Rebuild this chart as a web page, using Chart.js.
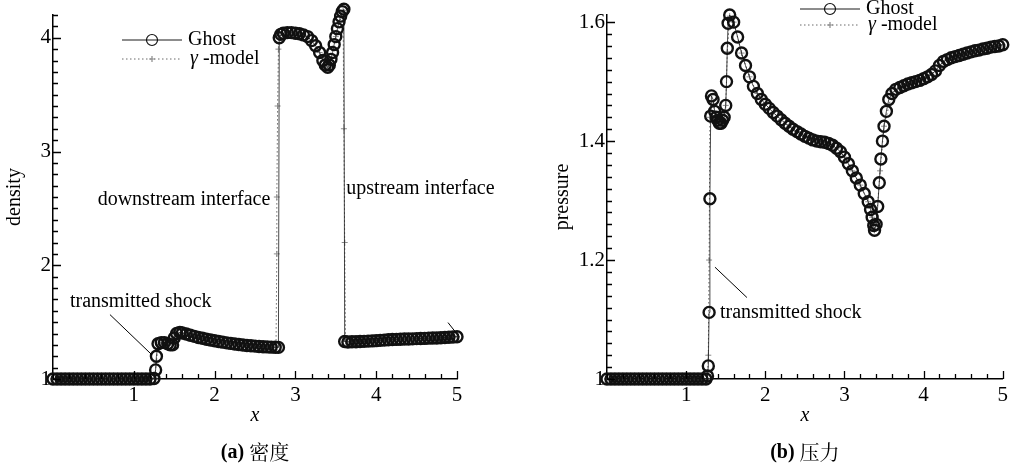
<!DOCTYPE html>
<html>
<head>
<meta charset="utf-8">
<script src="https://cdn.jsdelivr.net/npm/chart.js@4.4.1/dist/chart.umd.min.js"></script>
<style>
  body { margin: 0; background: #fff; }
  #wrap { position: relative; width: 1012px; height: 468px; }
  canvas { position: absolute; top: 0; }
  #c1 { left: 0; }
  #c2 { left: 506px; }
</style>
</head>
<body>
<div id="wrap">
  <canvas id="c1" width="506" height="468"></canvas>
  <canvas id="c2" width="506" height="468"></canvas>
</div>
<script>
// ---- data: [x, value] ----
const ghostDensity = [
  [0,1],[0.05,1],[0.1,1],[0.15,1],[0.2,1],[0.25,1],[0.3,1],[0.35,1],[0.4,1],[0.45,1],
  [0.5,1],[0.55,1],[0.6,1],[0.65,1],[0.7,1],[0.75,1],[0.8,1],[0.85,1],[0.9,1],[0.95,1],
  [1,1],[1.05,1],[1.1,1],[1.15,1],[1.2,1],[1.25,1.005],
  [1.27,1.08],[1.28,1.2],[1.3,1.31],[1.34,1.32],[1.38,1.32],[1.42,1.31],[1.45,1.3],[1.48,1.3],
  [1.5,1.36],[1.53,1.4],[1.57,1.41],[1.6,1.405],[1.65,1.395],[1.7,1.385],[1.75,1.375],
  [1.8,1.365],[1.85,1.358],[1.9,1.35],[1.95,1.343],[2,1.336],[2.05,1.33],[2.1,1.324],
  [2.15,1.318],[2.2,1.313],[2.25,1.308],[2.3,1.303],[2.35,1.299],[2.4,1.295],[2.45,1.292],
  [2.5,1.289],[2.55,1.286],[2.6,1.284],[2.65,1.282],[2.7,1.28],[2.75,1.279],[2.79,1.278],
  [2.8,4.0],[2.82,4.03],[2.85,4.04],[2.9,4.045],[2.95,4.045],[3,4.04],[3.05,4.035],[3.1,4.025],
  [3.15,4.01],[3.2,3.975],[3.25,3.93],[3.3,3.87],[3.34,3.8],[3.37,3.76],[3.4,3.74],[3.42,3.76],
  [3.44,3.81],[3.46,3.87],[3.48,3.94],[3.5,4.01],[3.52,4.08],[3.54,4.14],[3.56,4.19],[3.58,4.23],
  [3.6,4.25],
  [3.61,1.33],[3.65,1.325],[3.7,1.327],[3.75,1.328],[3.8,1.33],[3.85,1.331],[3.9,1.333],
  [3.95,1.335],[4,1.337],[4.05,1.34],[4.1,1.342],[4.15,1.345],[4.2,1.347],[4.25,1.348],
  [4.3,1.35],[4.35,1.351],[4.4,1.352],[4.45,1.353],[4.5,1.355],[4.55,1.356],[4.6,1.357],
  [4.65,1.359],[4.7,1.36],[4.75,1.361],[4.8,1.363],[4.85,1.365],[4.9,1.367],[4.95,1.369],[5,1.372]
];

const gammaDensity = [
  [0,1],[0.1,1],[0.2,1],[0.3,1],[0.4,1],[0.5,1],[0.6,1],[0.7,1],[0.8,1],[0.9,1],[1,1],
  [1.1,1],[1.2,1],[1.26,1.01],[1.28,1.15],[1.3,1.3],[1.4,1.32],[1.5,1.37],[1.6,1.405],
  [1.7,1.385],[1.8,1.365],[1.9,1.35],[2,1.336],[2.1,1.324],[2.2,1.313],[2.3,1.303],
  [2.4,1.295],[2.5,1.289],[2.6,1.284],[2.7,1.28],[2.76,1.28],[2.77,2.1],[2.77,2.6],
  [2.78,3.4],[2.79,3.9],[2.8,4.02],[2.9,4.045],[3,4.04],[3.1,4.025],[3.2,3.975],[3.3,3.87],
  [3.4,3.74],[3.5,4.01],[3.59,4.24],[3.6,3.2],[3.61,2.2],[3.62,1.33],[3.7,1.327],[3.8,1.33],
  [3.9,1.333],[4,1.337],[4.1,1.342],[4.2,1.347],[4.3,1.35],[4.4,1.352],[4.5,1.355],
  [4.6,1.357],[4.7,1.36],[4.8,1.363],[4.9,1.367],[5,1.372]
];

const ghostPressure = [
  [0,1],[0.05,1],[0.1,1],[0.15,1],[0.2,1],[0.25,1],[0.3,1],[0.35,1],[0.4,1],[0.45,1],
  [0.5,1],[0.55,1],[0.6,1],[0.65,1],[0.7,1],[0.75,1],[0.8,1],[0.85,1],[0.9,1],[0.95,1],
  [1,1],[1.05,1],[1.1,1],[1.15,1],[1.2,1],[1.25,1],
  [1.27,1.005],[1.28,1.022],[1.29,1.112],[1.3,1.303],[1.31,1.442],[1.32,1.476],[1.34,1.47],
  [1.36,1.45],[1.38,1.44],[1.4,1.435],[1.42,1.43],[1.44,1.43],[1.46,1.435],[1.48,1.44],
  [1.5,1.46],[1.51,1.5],[1.52,1.556],[1.53,1.598],[1.55,1.612],[1.6,1.6],[1.65,1.575],
  [1.7,1.548],[1.75,1.527],[1.8,1.508],[1.85,1.492],[1.9,1.48],[1.95,1.47],[2,1.462],
  [2.05,1.455],[2.1,1.448],[2.15,1.442],[2.2,1.436],[2.25,1.43],[2.3,1.425],[2.35,1.42],
  [2.4,1.416],[2.45,1.412],[2.5,1.408],[2.55,1.405],[2.6,1.402],[2.65,1.4],[2.7,1.399],
  [2.75,1.398],[2.8,1.396],[2.85,1.393],[2.9,1.388],[2.95,1.382],[3,1.373],[3.05,1.362],
  [3.1,1.35],[3.15,1.338],[3.2,1.326],[3.25,1.312],[3.3,1.298],[3.33,1.285],[3.35,1.272],
  [3.37,1.258],[3.38,1.25],[3.4,1.26],[3.42,1.29],[3.44,1.33],[3.46,1.37],[3.48,1.4],
  [3.5,1.425],[3.53,1.45],[3.56,1.47],[3.6,1.48],[3.65,1.487],[3.7,1.49],[3.75,1.493],
  [3.8,1.496],[3.85,1.498],[3.9,1.5],[3.95,1.502],[4,1.505],[4.05,1.508],[4.1,1.512],
  [4.15,1.518],[4.2,1.527],[4.25,1.534],[4.3,1.537],[4.35,1.54],[4.4,1.542],[4.45,1.544],
  [4.5,1.546],[4.55,1.548],[4.6,1.55],[4.65,1.552],[4.7,1.553],[4.75,1.555],[4.8,1.556],
  [4.85,1.558],[4.9,1.559],[4.95,1.56],[5,1.562]
];

const gammaPressure = [
  [0,1],[0.1,1],[0.2,1],[0.3,1],[0.4,1],[0.5,1],[0.6,1],[0.7,1],[0.8,1],[0.9,1],[1,1],
  [1.1,1],[1.2,1],[1.27,1],[1.28,1.04],[1.29,1.2],[1.3,1.44],[1.35,1.46],[1.4,1.435],
  [1.45,1.43],[1.5,1.46],[1.52,1.55],[1.55,1.61],[1.6,1.6],[1.7,1.548],[1.8,1.508],
  [1.9,1.48],[2,1.462],[2.1,1.448],[2.2,1.436],[2.3,1.425],[2.4,1.416],[2.5,1.408],
  [2.6,1.402],[2.7,1.399],[2.8,1.396],[2.9,1.388],[3,1.373],[3.1,1.35],[3.2,1.326],
  [3.3,1.298],[3.35,1.272],[3.38,1.25],[3.4,1.26],[3.45,1.35],[3.5,1.425],[3.6,1.48],
  [3.7,1.49],[3.8,1.496],[3.9,1.5],[4,1.505],[4.1,1.512],[4.2,1.527],[4.3,1.537],
  [4.4,1.542],[4.5,1.546],[4.6,1.55],[4.7,1.553],[4.8,1.556],[4.9,1.559],[5,1.562]
];

const xTicks = [1, 2, 3, 4, 5];
const densityTicks = [1, 2, 3, 4];
const pressureTicks = [1, 1.2, 1.4, 1.6];

const SERIF = "'Liberation Serif', 'Times New Roman', serif";
const CJK = "'Noto Serif CJK SC', 'Noto Sans CJK SC', sans-serif";
Chart.defaults.font.family = SERIF;
Chart.defaults.color = '#000';

function toPoints(arr) {
  return arr.map(p => ({ x: p[0], y: p[1] }));
}

// axes ticks drawn inward, labels, legend and notes
const panelDecor = {
  id: 'panelDecor',
  afterDraw(chart, args, o) {
    const ctx = chart.ctx;
    const xs = chart.scales.x, ys = chart.scales.y;
    const area = chart.chartArea;
    ctx.save();

    // inward tick marks
    ctx.strokeStyle = '#000';
    ctx.lineWidth = 1.3;
    ctx.beginPath();
    for (let i = 0; i * o.xStep <= 5 + 1e-9; i++) {
      const v = i * o.xStep;
      const px = Math.round(xs.getPixelForValue(v)) + 0.5;
      const len = xTicks.some(t => Math.abs(t - v) < 1e-6) ? 8 : 5;
      ctx.moveTo(px, area.bottom);
      ctx.lineTo(px, area.bottom - len);
    }
    for (let i = 0; ys.min + i * o.yStep <= ys.max + 1e-9; i++) {
      const v = ys.min + i * o.yStep;
      const py = Math.round(ys.getPixelForValue(v)) + 0.5;
      const len = o.yMajor.some(t => Math.abs(t - v) < 1e-6) ? 8 : 5;
      ctx.moveTo(area.left, py);
      ctx.lineTo(area.left + len, py);
    }
    ctx.stroke();

    // axis titles
    const cx = (area.left + area.right) / 2;
    ctx.fillStyle = '#000';
    ctx.textAlign = 'center';
    ctx.textBaseline = 'middle';
    ctx.font = 'italic 20px ' + SERIF;
    ctx.fillText('x', cx, 416);
    ctx.save();
    ctx.translate(o.yTitleX, 197);
    ctx.rotate(-Math.PI / 2);
    ctx.font = '20px ' + SERIF;
    ctx.fillText(o.yTitle, 0, 0);
    ctx.restore();

    // caption "(a) 密度"
    ctx.font = 'bold 20px ' + SERIF;
    const w1 = ctx.measureText(o.capTag + ' ').width;
    ctx.font = '20px ' + CJK;
    const w2 = ctx.measureText(o.capText).width;
    const start = cx - (w1 + w2) / 2;
    ctx.textAlign = 'left';
    ctx.font = 'bold 20px ' + SERIF;
    ctx.fillText(o.capTag + ' ', start, 453);
    ctx.font = '20px ' + CJK;
    ctx.fillText(o.capText, start + w1, 452);

    // notes and leader lines (data coordinates)
    ctx.font = '20px ' + SERIF;
    o.notes.forEach(n => {
      ctx.textAlign = n.align;
      ctx.fillText(n.text, xs.getPixelForValue(n.x), ys.getPixelForValue(n.y));
    });
    ctx.lineWidth = 1;
    ctx.beginPath();
    o.leaders.forEach(l => {
      ctx.moveTo(xs.getPixelForValue(l[0]), ys.getPixelForValue(l[1]));
      ctx.lineTo(xs.getPixelForValue(l[2]), ys.getPixelForValue(l[3]));
    });
    ctx.stroke();

    // legend
    const ds = chart.data.datasets;
    const lx = o.legend.x;
    ds.forEach((d, i) => {
      const y = o.legend.y + i * o.legend.gap;
      const mx = lx + 30;
      ctx.save();
      ctx.strokeStyle = d.borderColor;
      ctx.lineWidth = 1;
      ctx.setLineDash(d.borderDash || []);
      ctx.beginPath();
      ctx.moveTo(lx, y);
      ctx.lineTo(lx + 60, y);
      ctx.stroke();
      ctx.setLineDash([]);
      ctx.strokeStyle = d.pointBorderColor;
      ctx.lineWidth = 1.2;
      ctx.beginPath();
      if (d.pointStyle === 'circle') {
        ctx.arc(mx, y, d.pointRadius, 0, Math.PI * 2);
      } else {
        ctx.moveTo(mx - d.pointRadius, y); ctx.lineTo(mx + d.pointRadius, y);
        ctx.moveTo(mx, y - d.pointRadius); ctx.lineTo(mx, y + d.pointRadius);
      }
      ctx.stroke();
      ctx.restore();
      ctx.fillStyle = '#000';
      ctx.textAlign = 'left';
      ctx.font = '20px ' + SERIF;
      if (d.label === 'γ-model') {
        ctx.font = 'italic 20px ' + SERIF;
        ctx.fillText('γ', lx + 68, y);
        const gw = ctx.measureText('γ ').width;
        ctx.font = '20px ' + SERIF;
        ctx.fillText('-model', lx + 68 + gw, y);
      } else {
        ctx.fillText(d.label, lx + 66, y);
      }
    });
    ctx.restore();
  }
};

function makeDatasets(ghost, gamma) {
  return [
    {
      label: 'Ghost',
      data: toPoints(ghost),
      showLine: true,
      borderColor: '#1a1a1a',
      borderWidth: 0.8,
      pointStyle: 'circle',
      pointRadius: 5.5,
      pointBorderWidth: 2.4,
      pointBorderColor: '#111',
      pointBackgroundColor: 'rgba(255,255,255,0)',
      clip: false,
      order: 1
    },
    {
      label: 'γ-model',
      data: toPoints(gamma),
      showLine: true,
      borderColor: '#6a6a6a',
      borderWidth: 1,
      borderDash: [1.5, 2.5],
      pointStyle: 'cross',
      pointRadius: 3,
      pointBorderWidth: 1,
      pointBorderColor: '#8a8a8a',
      clip: false,
      order: 2
    }
  ];
}

function makePanel(id, cfg) {
  return new Chart(document.getElementById(id), {
    type: 'scatter',
    data: { datasets: makeDatasets(cfg.ghost, cfg.gamma) },
    options: {
      responsive: false,
      animation: false,
      devicePixelRatio: 1,
      layout: { padding: cfg.padding },
      plugins: {
        legend: { display: false },
        tooltip: { enabled: false },
        panelDecor: cfg.decor
      },
      scales: {
        x: {
          type: 'linear',
          min: 0,
          max: 5,
          afterBuildTicks: s => { s.ticks = xTicks.map(v => ({ value: v })); },
          afterFit: s => { s.height = 89; },
          grid: { display: false, drawTicks: false },
          border: { display: true, color: '#000', width: 1.5 },
          ticks: { font: { size: 21 }, color: '#000', padding: 4, maxRotation: 0, callback: v => String(v) }
        },
        y: {
          type: 'linear',
          min: cfg.yMin,
          max: cfg.yMax,
          afterBuildTicks: s => { s.ticks = cfg.yTicks.map(v => ({ value: v })); },
          afterFit: s => { s.width = cfg.yWidth; },
          grid: { display: false, drawTicks: false },
          border: { display: true, color: '#000', width: 1.5 },
          ticks: { font: { size: 21 }, color: '#000', padding: 2, callback: v => String(v) }
        }
      }
    },
    plugins: [panelDecor]
  });
}

// (a) 密度
makePanel('c1', {
  ghost: ghostDensity,
  gamma: gammaDensity,
  yMin: 1, yMax: 4.2, yTicks: densityTicks, yWidth: 53,
  padding: { left: 0, top: 15, right: 49, bottom: 0 },
  decor: {
    xStep: 0.2, yStep: 0.1, yMajor: densityTicks,
    yTitle: 'density', yTitleX: 15,
    capTag: '(a)', capText: '密度',
    legend: { x: 122, y: 40, gap: 19 },
    notes: [
      { text: 'downstream interface', x: 2.69, y: 2.58, align: 'right' },
      { text: 'upstream interface', x: 3.63, y: 2.67, align: 'left' },
      { text: 'transmitted shock', x: 0.21, y: 1.68, align: 'left' }
    ],
    leaders: [
      [0.705, 1.566, 1.225, 1.212],
      [4.889, 1.496, 4.988, 1.407]
    ]
  }
});

// (b) 压力
makePanel('c2', {
  ghost: ghostPressure,
  gamma: gammaPressure,
  yMin: 1, yMax: 1.612, yTicks: pressureTicks, yWidth: 101,
  padding: { left: 0, top: 15, right: 9, bottom: 0 },
  decor: {
    xStep: 0.2, yStep: 0.02, yMajor: pressureTicks,
    yTitle: 'pressure', yTitleX: 57,
    capTag: '(b)', capText: '压力',
    legend: { x: 294, y: 9, gap: 16 },
    notes: [
      { text: 'transmitted shock', x: 1.427, y: 1.112, align: 'left' }
    ],
    leaders: [
      [1.364, 1.188, 1.768, 1.137]
    ]
  }
});
</script>
</body>
</html>
